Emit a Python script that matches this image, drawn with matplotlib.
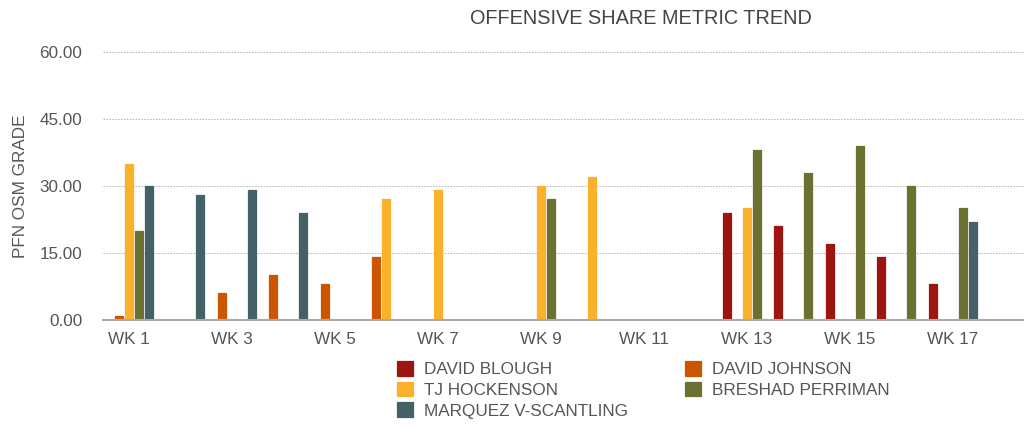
import numpy as np
from matplotlib import pyplot as plt
from matplotlib.ticker import FormatStrFormatter

plt.rcParams['font.family'] = ['Liberation Sans', 'DejaVu Sans']

nan = np.nan
weeks = ["WK %d" % i for i in range(1, 19)]
players = ["DAVID BLOUGH", "DAVID JOHNSON", "TJ HOCKENSON", "BRESHAD PERRIMAN", "MARQUEZ V-SCANTLING"]
colors = ["#9c1511", "#cc5500", "#fbb12b", "#6b7231", "#436166"]

blough    = [nan, nan, nan, nan, nan, nan, nan, nan, nan, nan, nan, nan, 24, 21, 17, 14, 8, nan]
johnson   = [1, nan, 6, 10, 8, 14, nan, nan, nan, nan, nan, nan, nan, nan, nan, nan, nan, nan]
hockenson = [35, nan, nan, nan, nan, 27, 29, nan, 30, 32, nan, nan, 25, nan, nan, nan, nan, nan]
perriman  = [20, nan, nan, nan, nan, nan, nan, nan, 27, nan, nan, nan, 38, 33, 39, 30, 25, nan]
mvs       = [30, 28, 29, 24, nan, nan, nan, nan, nan, nan, nan, nan, nan, nan, nan, nan, 22, nan]
series = [blough, johnson, hockenson, perriman, mvs]

fig = plt.figure(figsize=(10.24, 4.30), dpi=100)
ax = fig.add_axes([103/1024, 110/430, 927/1024, 268/430])

x = np.arange(len(weeks))
slot = 10 / 51.5
bars = []
for i, (vals, c, name) in enumerate(zip(series, colors, players)):
    b = ax.bar(x + (i - 2) * slot, vals, width=8 / 51.5, color=c, label=name, zorder=3,
               edgecolor=c, linewidth=0.9, joinstyle='round')
    bars.append(b)

ax.set_xlim(-0.5, len(weeks) - 0.5)
ax.set_ylim(0, 60)
ax.set_yticks([0, 15, 30, 45, 60])
ax.yaxis.set_major_formatter(FormatStrFormatter('%.2f'))
ax.set_xticks(x[::2])
ax.set_xticklabels(weeks[::2])

for s in ['top', 'right', 'left']:
    ax.spines[s].set_visible(False)
ax.spines['bottom'].set_color('#aaaaaa')
ax.spines['bottom'].set_linewidth(1.5)
ax.spines['bottom'].set_zorder(4)
ax.tick_params(length=0, labelsize=12.3, labelcolor='#555555')
ax.tick_params(axis='y', pad=15)
ax.tick_params(axis='x', pad=9)

for yv in [15, 30, 45, 60]:
    ax.axhline(yv, color='#b0b0b0', linewidth=0.7, linestyle=(0, (1.5, 1.5)), zorder=1)

ax.set_ylabel("PFN OSM GRADE", fontsize=12.3, color='#555555', labelpad=8)
fig.text(641/1024, 1 - 19/430, "OFFENSIVE SHARE METRIC TREND", ha='center', va='center',
         fontsize=14.3, color='#444444')

order = [0, 2, 4, 1, 3]
fig.legend([bars[k] for k in order], [players[k] for k in order], ncol=2,
           loc='upper left', bbox_to_anchor=(397/1024, 1 - 361/430), frameon=False,
           fontsize=12.3, handlelength=0.95, handleheight=0.95, handletextpad=0.65,
           labelspacing=0.26, columnspacing=3.3, borderpad=0, borderaxespad=0,
           labelcolor='#555555')

fig.savefig('out.png', dpi=100)
